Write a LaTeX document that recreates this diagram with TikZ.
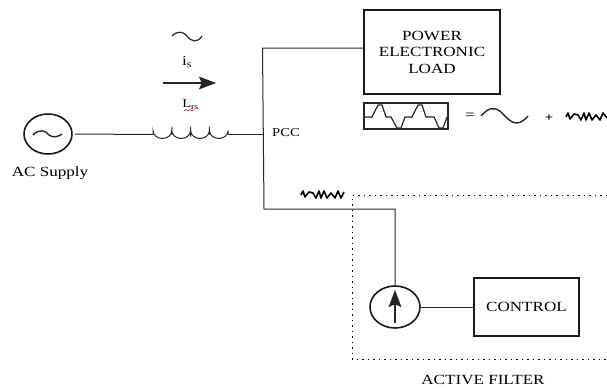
\documentclass[tikz,border=0pt]{standalone}
\usepackage{fontspec}
\setmainfont[FakeStretch=1.22]{Liberation Serif}
\usetikzlibrary{arrows.meta, positioning, shapes.geometric}

\begin{document}
\begin{tikzpicture}[
    x=1pt, y=-1pt,
    wire/.style={draw=black!85, line width=1pt},
    blockbox/.style={draw=black!90, line width=1.7pt, align=center, inner sep=0pt,
                font=\fontsize{14}{16.5}\selectfont},
    srcnode/.style={draw=black!90, ellipse, line width=1.6pt, inner sep=0pt},
    txt/.style={inner sep=0pt, font=\fontsize{14}{16}\selectfont},
    wave/.style={draw=black!85, line width=1.2pt},
    noisy/.style={draw=black, line width=1.6pt, line join=round},
    flow/.style={-{Stealth[length=6mm,width=4.5mm,inset=1mm]}, line width=1.1pt, draw=black!85}
]
    \useasboundingbox (0,0) rectangle (607,388);
    \node[srcnode, minimum width=48pt, minimum height=40pt] (supply) at (48,134) {};
    \node[blockbox, minimum width=136pt, minimum height=84pt] (load) at (432,52) {POWER\\ELECTRONIC\\LOAD};
    \node[blockbox, minimum width=105pt, minimum height=58pt] (control) at (526.5,307) {CONTROL};
    \node[srcnode, minimum width=50pt, minimum height=42pt] (inject) at (395,307) {};
    \node[txt] (acl) at (50,173) {AC Supply};
    \node[txt, anchor=west, font=\fontsize{12}{14}\selectfont] (pcc) at (272,133) {PCC};
    \node[txt] (afl) at (483,380) {ACTIVE FILTER};
    \node[txt] (isl) at (187,62) {i\textsubscript{s}};
    \node[txt, font=\fontsize{12}{14}\selectfont] (lsl) at (190.5,105) {L\textsubscript{rs}};
    \node[txt] (eql) at (470,116) {=};
    \node[txt, font=\bfseries\fontsize{12}{14}\selectfont] (plusl) at (549,118) {+};

    \coordinate (coilin) at (153,134.5);
    \coordinate (coilout) at (228,134.5);
    \coordinate (pccpt) at (262.5,134.5);
    \coordinate (pcctop) at (262.5,48);
    \coordinate (pcclow) at (264,209);
    \coordinate (injtop) at (395,209);
    \coordinate (arrowa) at (163,83);
    \coordinate (arrowb) at (216,83);

    % wiring
    \draw[wire] (supply.east) ++(2,0) -- (coilin);
    \draw[wire] (coilout) -- (pccpt);
    \draw[wire] (load.west |- pcctop) -- (pcctop) -- (pcclow) -- (injtop) -- (inject.north);
    \draw[wire] (inject.east) -- (control.west);
    \draw[flow] (arrowa) -- (arrowb);
    \draw[flow, line width=1.6pt] (395,323) -- (395,290);

    % coil
    \draw[wire] (coilin) -- ++(0,-4) arc (180:0:9.4 and 8) -- ++(0,4) -- ++(0,-4) arc (180:0:9.4 and 8) -- ++(0,6) -- ++(0,-6) arc (180:0:9.4 and 8) -- ++(0,4) -- ++(0,-4) arc (180:0:9.4 and 8) -- (coilout);
    \draw[red!80!black, line width=0.5pt] (184,111) -- ++(2,-1.5) -- ++(2,1.5) -- ++(2,-1.5) -- ++(2,1.5) -- ++(2,-1.5);

    % sine marks
    \draw[wave, line width=1.4pt] (33,135) .. controls (40,128) and (46,131) .. (49,135) .. controls (53,138) and (58,137) .. (62,134);
    \draw[wave] (172,36) .. controls (178,30) and (184,32) .. (187,36) .. controls (191,42) and (198,43) .. (202,36);
    \draw[wave, line width=1.4pt] (481,116) .. controls (488,108) and (494,106) .. (501,112) .. controls (509,120) and (516,130) .. (528,116);

    % distorted current
    \draw[wave] (364,103) rectangle (448,129);
    \draw[wave] (364,117) -- (372,117) -- (378,105) -- (382,105) -- (386,117) -- (391,117) -- (397,128) -- (401,128) -- (405,117) -- (412,117) -- (418,105) -- (422,105) -- (426,117) -- (434,117) -- (439,128) -- (443,128) -- (447,117);

    % ripple
    \draw[noisy] (566,117) -- (568,113) -- (570,119) -- (574,114) -- (578,115) -- (581,120) -- (584,113) -- (586,120) -- (589,113) -- (592,120) -- (596,115) -- (600,120) -- (603,113) -- (607,118);
    \draw[noisy] (301,195) -- (303,191) -- (305,197) -- (309,192) -- (313,193) -- (316,198) -- (319,191) -- (321,198) -- (324,191) -- (327,198) -- (331,193) -- (335,198) -- (338,191) -- (341,198) -- (344,192);

    % filter boundary
    \draw[black, line width=1pt, dash pattern=on 1.5pt off 4pt] (607,195) -- (352,195) -- (352,359) -- (607,359);
\end{tikzpicture}
\end{document}
